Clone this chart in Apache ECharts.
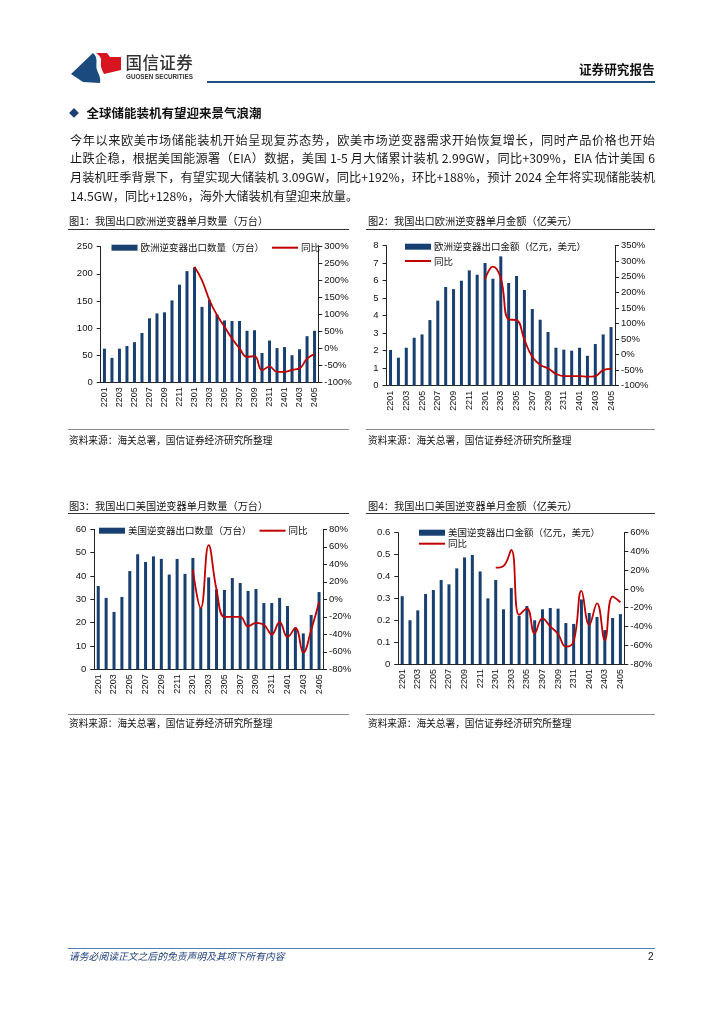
<!DOCTYPE html>
<html><head><meta charset="utf-8">
<script src="https://cdn.jsdelivr.net/npm/echarts/dist/echarts.min.js"></script>
<style>
html,body{margin:0;padding:0;background:#fff;}
#page{position:relative;width:724px;height:1024px;overflow:hidden;font-family:"Noto Sans CJK SC","Noto Sans",sans-serif;color:#111;}
#chart{position:absolute;left:0;top:0;width:724px;height:1024px;}
.t{position:absolute;white-space:nowrap;}
.r{position:absolute;}
.pl{position:absolute;left:70px;width:585px;font-size:12.2px;line-height:18.8px;height:18.8px;text-align:justify;text-align-last:justify;color:#1a1a1a;}
</style></head>
<body>
<div id="page">
<div id="chart"></div>
<svg class="r" style="left:0;top:0" width="140" height="100">
  <path d="M71,74 L93,53 C99,58 95,65 97,70 C99,75 101,78 100,83 L83,82 Z" fill="#1b4a7e"/>
  <path d="M96,53 L107,53 L110,57 L121,57 L121,70 L104,74 C102,70 100,66 101,62 C102,58 99,55 96,53 Z" fill="#d7141f"/>
</svg>
<div class="t" style="left:125.5px;top:52px;font-size:16.5px;line-height:20px;letter-spacing:0.4px;font-weight:500;color:#333;">国信证券</div>
<div class="t" style="left:126px;top:73px;font-size:6.3px;line-height:8px;font-family:'Liberation Sans',sans-serif;font-weight:bold;color:#333;">GUOSEN SECURITIES</div>
<div class="r" style="left:206.7px;top:80.7px;width:448.3px;height:2px;background:#1d5283;"></div>
<div class="t" style="left:579px;top:60.5px;font-size:12.6px;line-height:16px;font-weight:bold;color:#111;">证券研究报告</div>

<div class="t" style="left:69px;top:105px;font-size:10px;line-height:16px;color:#1b3f72;">◆</div>
<div class="t" style="left:86.5px;top:105px;font-size:12.5px;line-height:16px;font-weight:bold;color:#111;">全球储能装机有望迎来景气浪潮</div>

<div class="pl" style="top:130.6px;">今年以来欧美市场储能装机开始呈现复苏态势，欧美市场逆变器需求开始恢复增长，同时产品价格也开始</div>
<div class="pl" style="top:149.4px;">止跌企稳，根据美国能源署（EIA）数据，美国 1-5 月大储累计装机 2.99GW，同比+309%，EIA 估计美国 6</div>
<div class="pl" style="top:168.2px;">月装机旺季背景下，有望实现大储装机 3.09GW，同比+192%，环比+188%，预计 2024 全年将实现储能装机</div>
<div class="pl" style="top:187px;text-align-last:left;">14.5GW，同比+128%，海外大储装机有望迎来放量。</div>

<div class="t" style="left:69px;top:214px;font-size:10.2px;line-height:14px;">图1：我国出口欧洲逆变器单月数量（万台）</div>
<div class="t" style="left:368px;top:214px;font-size:10.2px;line-height:14px;">图2：我国出口欧洲逆变器单月金额（亿美元）</div>
<div class="r" style="left:68px;top:229px;width:281px;height:1.3px;background:#333;"></div>
<div class="r" style="left:366px;top:229px;width:289px;height:1.3px;background:#333;"></div>
<div class="r" style="left:68px;top:429px;width:281px;height:1px;background:#888;"></div>
<div class="r" style="left:366px;top:429px;width:289px;height:1px;background:#888;"></div>
<div class="t" style="left:69px;top:434px;font-size:9.7px;line-height:13px;">资料来源：海关总署，国信证券经济研究所整理</div>
<div class="t" style="left:368px;top:434px;font-size:9.7px;line-height:13px;">资料来源：海关总署，国信证券经济研究所整理</div>

<div class="t" style="left:69px;top:498.5px;font-size:10.2px;line-height:14px;">图3：我国出口美国逆变器单月数量（万台）</div>
<div class="t" style="left:368px;top:498.5px;font-size:10.2px;line-height:14px;">图4：我国出口美国逆变器单月金额（亿美元）</div>
<div class="r" style="left:68px;top:513px;width:281px;height:1.3px;background:#333;"></div>
<div class="r" style="left:366px;top:513px;width:289px;height:1.3px;background:#333;"></div>
<div class="r" style="left:68px;top:714px;width:281px;height:1px;background:#888;"></div>
<div class="r" style="left:366px;top:714px;width:289px;height:1px;background:#888;"></div>
<div class="t" style="left:69px;top:717px;font-size:9.7px;line-height:13px;">资料来源：海关总署，国信证券经济研究所整理</div>
<div class="t" style="left:368px;top:717px;font-size:9.7px;line-height:13px;">资料来源：海关总署，国信证券经济研究所整理</div>

<div class="r" style="left:68px;top:948px;width:587px;height:1px;background:#4f7fb5;"></div>
<div class="t" style="left:69px;top:949.5px;font-size:9.8px;line-height:13px;font-style:italic;color:#1f3f7a;">请务必阅读正文之后的免责声明及其项下所有内容</div>
<div class="t" style="left:648px;top:949.5px;font-size:10px;line-height:13px;font-family:'Liberation Sans',sans-serif;color:#111;">2</div>
</div>
<script>
var months = ['2201','2202','2203','2204','2205','2206','2207','2208','2209','2210','2211','2212',
  '2301','2302','2303','2304','2305','2306','2307','2308','2309','2310','2311','2312',
  '2401','2402','2403','2404','2405'];
var euQty = [62,45,62,67,74,91,118,127,129,151,180,205,212,139,152,125,114,113,113,95,96,54,77,63,65,50,61,85,95];
var euQtyYoy = [null,null,null,null,null,null,null,null,null,null,null,null,
  241,201,142,98,64,29,0,-25,-23,-64,-54,-69,-69,-63,-59,-30,-17];
var euAmt = [2.04,1.6,2.17,2.74,2.93,3.75,4.86,5.64,5.52,6.0,6.59,6.34,7.01,6.11,7.39,5.87,6.27,5.47,4.38,3.77,3.07,2.17,2.06,2.0,2.17,1.71,2.38,2.93,3.35];
var euAmtYoy = [null,null,null,null,null,null,null,null,null,null,null,null,
  242,283,245,113,111,47,-7,-33,-44,-62,-69,-69,-69,-71,-69,-50,-46];
var usQty = [35.7,30.6,24.6,31,42.1,49.3,46,48.4,47.3,40.6,47.3,40.9,47.7,26.3,39.4,34.3,34,39.1,37,33.6,34.4,28.4,28.4,30.6,27.1,18,15.4,23.3,33.1];
var usQtyYoy = [null,null,null,null,null,null,null,null,null,null,null,null,
  34,-10,62,11,-20,-20,-20,-31,-27,-29,-40,-26,-43,-33,-61,-35,-3];
var usAmt = [0.31,0.2,0.245,0.32,0.338,0.384,0.364,0.437,0.487,0.498,0.423,0.30,0.384,0.25,0.347,0.22,0.265,0.2,0.25,0.256,0.253,0.187,0.183,0.295,0.233,0.215,0.155,0.21,0.228];
var usAmtYoy = [null,null,null,null,null,null,null,null,null,null,null,null,
  22.7,24.5,41.6,-27.7,-20.6,-47.3,-31.3,-40,-48,-61.5,-56,-2,-38.4,-15.3,-54.4,-8.2,-14.2];

var barNames = ['欧洲逆变器出口数量（万台）','欧洲逆变器出口金额（亿元，美元）','美国逆变器出口数量（万台）','美国逆变器出口金额（亿元，美元）'];
var lineName = '同比';
var barData = [euQty, euAmt, usQty, usAmt];
var lineData = [euQtyYoy, euAmtYoy, usQtyYoy, usAmtYoy];
var leftAxes = [[0,250,50],[0,8,1],[0,60,10],[0,0.6,0.1]];
var rightAxes = [[-100,300,50],[-100,350,50],[-80,80,20],[-80,60,20]];

var grids = [
  {left:100.7, top:246.7, width:217.6, height:135.6},
  {left:386.6, top:245.7, width:228.4, height:140},
  {left:94.3, top:529.3, width:228.7, height:140},
  {left:398.3, top:532.7, width:226, height:131.3}
];
var legends = [
  {left:111.5, top:242.2, orient:'horizontal'},
  {left:405, top:241.2, orient:'vertical', itemGap:3.3},
  {left:99, top:525.2, orient:'horizontal'},
  {left:419, top:527.2, orient:'vertical', itemGap:0}
];
var NUMFONT = "'Liberation Sans Narrow','Liberation Sans',Arial,sans-serif";
var CJK = "'Noto Sans CJK SC','Noto Sans',sans-serif";
var axisCol = '#222';
var barColor = '#173f6f';
var lineColor = '#c00000';
var lineIcon = 'path://M0,0 L26,0 L26,2 L0,2 Z';

var option = {animation:false, grid:[], xAxis:[], yAxis:[], series:[], legend:[]};
for (var i=0;i<4;i++){
  option.grid.push(Object.assign({containLabel:false}, grids[i]));
  option.xAxis.push({gridIndex:i, type:'category', data:months,
    axisLine:{onZero:false, lineStyle:{color:axisCol, width:1}},
    axisTick:{interval:0, length:3, lineStyle:{color:axisCol}},
    axisLabel:{rotate:90, interval:1, fontSize:9, margin:5, color:'#111', fontFamily:NUMFONT},
    splitLine:{show:false}});
  var la = leftAxes[i], ra = rightAxes[i];
  option.yAxis.push({gridIndex:i, type:'value', position:'left', min:la[0], max:la[1], interval:la[2],
    axisLine:{show:true, lineStyle:{color:axisCol}},
    axisTick:{show:true, length:4, lineStyle:{color:axisCol}},
    axisLabel:{fontSize:9.5, margin:8, color:'#111', fontFamily:NUMFONT,
      formatter:(i===3? function(v){return v===0?'0':v.toFixed(1);} : null)},
    splitLine:{show:false}});
  option.yAxis.push({gridIndex:i, type:'value', position:'right', min:ra[0], max:ra[1], interval:ra[2],
    axisLine:{show:true, lineStyle:{color:axisCol}},
    axisTick:{show:true, length:4, lineStyle:{color:axisCol}},
    axisLabel:{fontSize:9.5, margin:6, color:'#111', fontFamily:NUMFONT, formatter:'{value}%'},
    splitLine:{show:false}});
  option.series.push({type:'bar', name:barNames[i], xAxisIndex:i, yAxisIndex:2*i, data:barData[i],
    barWidth:3, itemStyle:{color:barColor}});
  option.series.push({type:'line', name:lineName, xAxisIndex:i, yAxisIndex:2*i+1, data:lineData[i],
    smooth:0.45, symbol:'none', showSymbol:false, lineStyle:{color:lineColor, width:1.8}, itemStyle:{color:lineColor}, z:3});
  option.legend.push(Object.assign({
    padding:0, itemWidth:26, itemHeight:6, itemGap:8, selectedMode:false, symbolKeepAspect:true,
    textStyle:{fontSize:9.5, lineHeight:11, color:'#111', fontFamily:CJK, padding:[0,0,0,-2]},
    data:[{name:barNames[i], icon:'rect'}, {name:lineName, icon:lineIcon, itemStyle:{color:lineColor}}]
  }, legends[i]));
}
var chart = echarts.init(document.getElementById('chart'), null, {renderer:'canvas'});
chart.setOption(option);
</script>
</body></html>
